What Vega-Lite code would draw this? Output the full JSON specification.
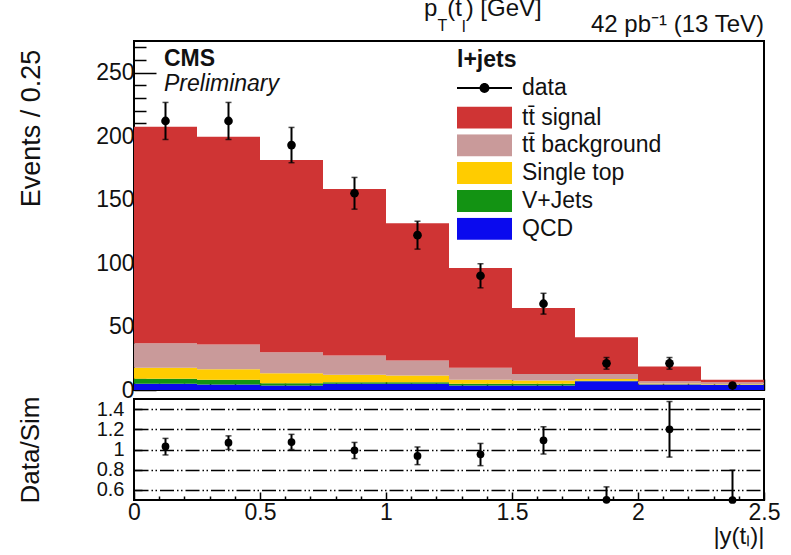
{
  "$schema": "https://vega.github.io/schema/vega-lite/v6.json",
  "padding": {"left": 16, "top": -5, "right": 5, "bottom": 5},
  "background": "white",
  "config": {
    "font": "Liberation Sans",
    "view": {"stroke": "black", "strokeWidth": 2},
    "axis": {"domain": false, "grid": false, "zindex": 1, "tickCount": 100, "labelColor": "#111", "titleColor": "#111", "tickColor": "black", "tickWidth": 1.5, "titleFontWeight": "normal", "labelFont": "Liberation Sans", "titleFont": "Liberation Sans", "labelOverlap": false, "labelFlush": false, "labelBound": false},
    "legend": {"labelFont": "Liberation Sans", "titleFont": "Liberation Sans", "labelColor": "#111", "titleColor": "#111"}
  },
  "datasets": {
    "hist": [
      {"lo": 0, "hi": 0.25, "process": "QCD", "k": 1, "n": 4.9},
      {"lo": 0, "hi": 0.25, "process": "V+Jets", "k": 2, "n": 3.9},
      {"lo": 0, "hi": 0.25, "process": "Single top", "k": 3, "n": 8.7},
      {"lo": 0, "hi": 0.25, "process": "tt\u0304 background", "k": 4, "n": 19.4},
      {"lo": 0, "hi": 0.25, "process": "tt\u0304 signal", "k": 5, "n": 170.6},
      {"lo": 0.25, "hi": 0.5, "process": "QCD", "k": 1, "n": 4.3},
      {"lo": 0.25, "hi": 0.5, "process": "V+Jets", "k": 2, "n": 3.7},
      {"lo": 0.25, "hi": 0.5, "process": "Single top", "k": 3, "n": 8.4},
      {"lo": 0.25, "hi": 0.5, "process": "tt\u0304 background", "k": 4, "n": 19.4},
      {"lo": 0.25, "hi": 0.5, "process": "tt\u0304 signal", "k": 5, "n": 163.8},
      {"lo": 0.5, "hi": 0.75, "process": "QCD", "k": 1, "n": 3.5},
      {"lo": 0.5, "hi": 0.75, "process": "V+Jets", "k": 2, "n": 1.9},
      {"lo": 0.5, "hi": 0.75, "process": "Single top", "k": 3, "n": 7.8},
      {"lo": 0.5, "hi": 0.75, "process": "tt\u0304 background", "k": 4, "n": 16.6},
      {"lo": 0.5, "hi": 0.75, "process": "tt\u0304 signal", "k": 5, "n": 151.5},
      {"lo": 0.75, "hi": 1.0, "process": "QCD", "k": 1, "n": 5.0},
      {"lo": 0.75, "hi": 1.0, "process": "V+Jets", "k": 2, "n": 1.1},
      {"lo": 0.75, "hi": 1.0, "process": "Single top", "k": 3, "n": 5.9},
      {"lo": 0.75, "hi": 1.0, "process": "tt\u0304 background", "k": 4, "n": 15.2},
      {"lo": 0.75, "hi": 1.0, "process": "tt\u0304 signal", "k": 5, "n": 131.2},
      {"lo": 1.0, "hi": 1.25, "process": "QCD", "k": 1, "n": 4.9},
      {"lo": 1.0, "hi": 1.25, "process": "V+Jets", "k": 2, "n": 1.2},
      {"lo": 1.0, "hi": 1.25, "process": "Single top", "k": 3, "n": 5.3},
      {"lo": 1.0, "hi": 1.25, "process": "tt\u0304 background", "k": 4, "n": 11.8},
      {"lo": 1.0, "hi": 1.25, "process": "tt\u0304 signal", "k": 5, "n": 108.1},
      {"lo": 1.25, "hi": 1.5, "process": "QCD", "k": 1, "n": 3.5},
      {"lo": 1.25, "hi": 1.5, "process": "V+Jets", "k": 2, "n": 1.4},
      {"lo": 1.25, "hi": 1.5, "process": "Single top", "k": 3, "n": 3.1},
      {"lo": 1.25, "hi": 1.5, "process": "tt\u0304 background", "k": 4, "n": 9.5},
      {"lo": 1.25, "hi": 1.5, "process": "tt\u0304 signal", "k": 5, "n": 78.7},
      {"lo": 1.5, "hi": 1.75, "process": "QCD", "k": 1, "n": 3.5},
      {"lo": 1.5, "hi": 1.75, "process": "V+Jets", "k": 2, "n": 1.5},
      {"lo": 1.5, "hi": 1.75, "process": "Single top", "k": 3, "n": 2.5},
      {"lo": 1.5, "hi": 1.75, "process": "tt\u0304 background", "k": 4, "n": 5.2},
      {"lo": 1.5, "hi": 1.75, "process": "tt\u0304 signal", "k": 5, "n": 52.0},
      {"lo": 1.75, "hi": 2.0, "process": "QCD", "k": 1, "n": 6.9},
      {"lo": 1.75, "hi": 2.0, "process": "V+Jets", "k": 2, "n": 0.3},
      {"lo": 1.75, "hi": 2.0, "process": "Single top", "k": 3, "n": 1.5},
      {"lo": 1.75, "hi": 2.0, "process": "tt\u0304 background", "k": 4, "n": 4.0},
      {"lo": 1.75, "hi": 2.0, "process": "tt\u0304 signal", "k": 5, "n": 28.9},
      {"lo": 2.0, "hi": 2.25, "process": "QCD", "k": 1, "n": 4.3},
      {"lo": 2.0, "hi": 2.25, "process": "V+Jets", "k": 2, "n": 0.3},
      {"lo": 2.0, "hi": 2.25, "process": "Single top", "k": 3, "n": 0.5},
      {"lo": 2.0, "hi": 2.25, "process": "tt\u0304 background", "k": 4, "n": 1.8},
      {"lo": 2.0, "hi": 2.25, "process": "tt\u0304 signal", "k": 5, "n": 11.6},
      {"lo": 2.25, "hi": 2.5, "process": "QCD", "k": 1, "n": 4.0},
      {"lo": 2.25, "hi": 2.5, "process": "V+Jets", "k": 2, "n": 0.2},
      {"lo": 2.25, "hi": 2.5, "process": "Single top", "k": 3, "n": 0.3},
      {"lo": 2.25, "hi": 2.5, "process": "tt\u0304 background", "k": 4, "n": 1.6},
      {"lo": 2.25, "hi": 2.5, "process": "tt\u0304 signal", "k": 5, "n": 1.9}
    ],
    "pts": [
      {"x": 0.125, "n": 212, "lo": 197.4, "hi": 226.6, "r": 1.03, "rlo": 0.946, "rhi": 1.11},
      {"x": 0.375, "n": 212, "lo": 197.4, "hi": 226.6, "r": 1.067, "rlo": 1.0, "rhi": 1.135},
      {"x": 0.625, "n": 193, "lo": 179.1, "hi": 206.9, "r": 1.074, "rlo": 1.0, "rhi": 1.15},
      {"x": 0.875, "n": 155, "lo": 142.5, "hi": 167.5, "r": 0.992, "rlo": 0.91, "rhi": 1.07},
      {"x": 1.125, "n": 122, "lo": 111, "hi": 133, "r": 0.936, "rlo": 0.85, "rhi": 1.025},
      {"x": 1.375, "n": 90, "lo": 80.5, "hi": 99.5, "r": 0.952, "rlo": 0.84, "rhi": 1.06},
      {"x": 1.625, "n": 68, "lo": 59.8, "hi": 76.2, "r": 1.091, "rlo": 0.955, "rhi": 1.225},
      {"x": 1.875, "n": 21, "lo": 16.4, "hi": 25.6, "r": 0.502, "rlo": 0.5, "rhi": 0.63},
      {"x": 2.125, "n": 21, "lo": 16.4, "hi": 25.6, "r": 1.2, "rlo": 0.925, "rhi": 1.475},
      {"x": 2.375, "n": 3.5, "lo": 1.6, "hi": 5.4, "r": 0.5, "rlo": 0.5, "rhi": 0.795}
    ]
  },
  "spacing": 9,
  "bounds": "flush",
  "vconcat": [
    {
      "width": 630,
      "height": 349,
      "layer": [
        {
          "data": {"name": "hist"},
          "transform": [{"stack": "n", "groupby": ["lo"], "sort": [{"field": "k", "order": "ascending"}], "as": ["s0", "s1"]}],
          "mark": {"type": "rect"},
          "encoding": {
            "x": {"field": "lo", "type": "quantitative", "title": null, "scale": {"domain": [0, 2.5], "nice": false},
              "axis": {"title": null, "labels": false, "tickCount": 100, "values": [0,0.1,0.2,0.3,0.4,0.5,0.6,0.7,0.8,0.9,1,1.1,1.2,1.3,1.4,1.5,1.6,1.7,1.8,1.9,2,2.1,2.2,2.3,2.4,2.5],
                "tickSize": {"condition": {"test": "indexof([0,0.5,1,1.5,2,2.5], datum.value) >= 0", "value": -11}, "value": -7}}},
            "x2": {"field": "hi"},
            "y": {"field": "s0", "type": "quantitative", "title": "Events / 0.25", "scale": {"domain": [0, 275], "nice": false},
              "axis": {"title": "Events / 0.25", "titleFontSize": 27, "titleAnchor": "middle", "titleY": 87, "titlePadding": 50, "labelOverlap": false, "tickCount": 100,
                "values": [0,10,20,30,40,50,60,70,80,90,100,110,120,130,140,150,160,170,180,190,200,210,220,230,240,250,260,270],
                "labelExpr": "datum.value % 50 == 0 ? '' + datum.value : ''", "labelFontSize": 23, "labelPadding": 22,
                "tickSize": {"condition": {"test": "datum.value % 50 == 0", "value": -22}, "value": -12}}},
            "y2": {"field": "s1"},
            "color": {"field": "process", "type": "nominal",
              "scale": {"domain": ["tt\u0304 signal", "tt\u0304 background", "Single top", "V+Jets", "QCD"], "range": ["#cf3434", "#c99a9a", "#ffcc00", "#139313", "#0a0aee"]},
              "legend": {"orient": "none", "legendX": 323, "legendY": 65.5, "title": null, "symbolType": "M-1,-0.4H1V0.4H-1Z", "symbolSize": 3025, "labelFontSize": 23, "labelOffset": 10, "clipHeight": 22, "rowPadding": 4.8, "symbolStrokeWidth": 0, "symbolOpacity": 1, "padding": 0}}
          }
        },
        {
          "data": {"name": "pts"},
          "mark": {"type": "errorbar", "ticks": {"size": 6, "thickness": 1.5}, "rule": {"strokeWidth": 2}, "color": "black"},
          "encoding": {
            "x": {"field": "x", "type": "quantitative", "title": null},
            "y": {"field": "lo", "type": "quantitative", "title": "Events / 0.25"},
            "y2": {"field": "hi"}
          }
        },
        {
          "data": {"name": "pts"},
          "mark": {"type": "point", "filled": true, "size": 75, "color": "black", "opacity": 1},
          "encoding": {
            "x": {"field": "x", "type": "quantitative", "title": null},
            "y": {"field": "n", "type": "quantitative", "title": "Events / 0.25"}
          }
        },
        {
          "data": {"name": "pts"},
          "mark": {"type": "point", "filled": true, "opacity": 0, "color": "black"},
          "encoding": {
            "x": {"field": "x", "type": "quantitative", "title": null},
            "y": {"field": "n", "type": "quantitative", "title": "Events / 0.25"},
            "shape": {"datum": "data", "scale": {"domain": ["data"], "range": ["M-1,-0.04H1V0.04H-1Z M0.18,0A0.18,0.18,0,1,1,-0.18,0A0.18,0.18,0,1,1,0.18,0Z"]},
              "legend": {"orient": "none", "legendX": 323, "legendY": 8, "title": "l+jets", "titleFontSize": 23, "titleFontWeight": "bold", "titlePadding": 5, "symbolSize": 3025, "symbolFillColor": "black", "symbolStrokeColor": "black", "symbolStrokeWidth": 0, "symbolOpacity": 1, "labelFontSize": 23, "labelOffset": 10, "clipHeight": 22, "padding": 0}}
          }
        },
        {
          "data": {"values": [{}]},
          "mark": {"type": "text", "text": "CMS", "fontSize": 23, "fontWeight": "bold", "align": "left", "baseline": "alphabetic", "color": "#111"},
          "encoding": {"x": {"datum": 0.119, "type": "quantitative"}, "y": {"datum": 255.5, "type": "quantitative"}}
        },
        {
          "data": {"values": [{}]},
          "mark": {"type": "text", "text": "Preliminary", "fontSize": 23, "fontStyle": "italic", "align": "left", "baseline": "alphabetic", "color": "#111"},
          "encoding": {"x": {"datum": 0.119, "type": "quantitative"}, "y": {"datum": 235.8, "type": "quantitative"}}
        },
        {
          "data": {"values": [{}]},
          "mark": {"type": "text", "text": "42 pb\u207b\u00b9 (13 TeV)", "fontSize": 24, "align": "right", "baseline": "alphabetic", "color": "#111"},
          "encoding": {"x": {"datum": 2.5, "type": "quantitative"}, "y": {"datum": 282.3, "type": "quantitative"}}
        },
        {
          "data": {"values": [{}]},
          "mark": {"type": "text", "text": "p", "fontSize": 24, "align": "left", "baseline": "alphabetic", "color": "#111"},
          "encoding": {"x": {"datum": 1.151, "type": "quantitative"}, "y": {"datum": 294.9, "type": "quantitative"}}
        },
        {
          "data": {"values": [{}]},
          "mark": {"type": "text", "text": "T", "fontSize": 16, "align": "left", "baseline": "alphabetic", "color": "#111"},
          "encoding": {"x": {"datum": 1.204, "type": "quantitative"}, "y": {"datum": 283, "type": "quantitative"}}
        },
        {
          "data": {"values": [{}]},
          "mark": {"type": "text", "text": "(t", "fontSize": 24, "align": "left", "baseline": "alphabetic", "color": "#111"},
          "encoding": {"x": {"datum": 1.243, "type": "quantitative"}, "y": {"datum": 294.9, "type": "quantitative"}}
        },
        {
          "data": {"values": [{}]},
          "mark": {"type": "text", "text": "l", "fontSize": 16, "align": "left", "baseline": "alphabetic", "color": "#111"},
          "encoding": {"x": {"datum": 1.302, "type": "quantitative"}, "y": {"datum": 282.2, "type": "quantitative"}}
        },
        {
          "data": {"values": [{}]},
          "mark": {"type": "text", "text": ") [GeV]", "fontSize": 24, "align": "left", "baseline": "alphabetic", "color": "#111"},
          "encoding": {"x": {"datum": 1.316, "type": "quantitative"}, "y": {"datum": 294.9, "type": "quantitative"}}
        }
      ]
    },
    {
      "width": 630,
      "height": 101,
      "data": {"name": "pts"},
      "layer": [
        {
          "mark": {"type": "point", "filled": true, "size": 60, "color": "black", "opacity": 1},
          "encoding": {
            "x": {"field": "x", "type": "quantitative", "title": "|y(t\u2097)|", "scale": {"domain": [0, 2.5], "nice": false},
              "axis": {"title": "|y(t\u2097)|", "titleFontSize": 24, "titleAnchor": "end", "titlePadding": -4, "labelOverlap": false, "tickCount": 100,
                "values": [0,0.1,0.2,0.3,0.4,0.5,0.6,0.7,0.8,0.9,1,1.1,1.2,1.3,1.4,1.5,1.6,1.7,1.8,1.9,2,2.1,2.2,2.3,2.4,2.5],
                "labelExpr": "indexof([0,0.5,1,1.5,2,2.5], datum.value) >= 0 ? '' + datum.value : ''", "labelFontSize": 23, "labelPadding": 9,
                "tickSize": {"condition": {"test": "indexof([0,0.5,1,1.5,2,2.5], datum.value) >= 0", "value": -8}, "value": -4}}},
            "y": {"field": "r", "type": "quantitative", "title": "Data/Sim", "scale": {"domain": [0.5, 1.5], "nice": false},
              "axis": {"title": "Data/Sim", "titleFontSize": 26, "titlePadding": 53, "values": [0.6, 0.8, 1, 1.2, 1.4], "labelOverlap": false, "tickCount": 100,
                "labelExpr": "'' + datum.value", "labelFontSize": 20, "labelPadding": 18, "tickSize": -8,
                "grid": true, "gridColor": "black", "gridWidth": 1.5, "gridDash": [14, 3, 1.5, 2.5, 1.5, 3]}}
          }
        },
        {
          "mark": {"type": "errorbar", "ticks": {"size": 6, "thickness": 1.5}, "rule": {"strokeWidth": 2}, "color": "black"},
          "encoding": {
            "x": {"field": "x", "type": "quantitative", "title": "|y(t\u2097)|"},
            "y": {"field": "rlo", "type": "quantitative", "title": "Data/Sim"},
            "y2": {"field": "rhi"}
          }
        }
      ]
    }
  ]
}
